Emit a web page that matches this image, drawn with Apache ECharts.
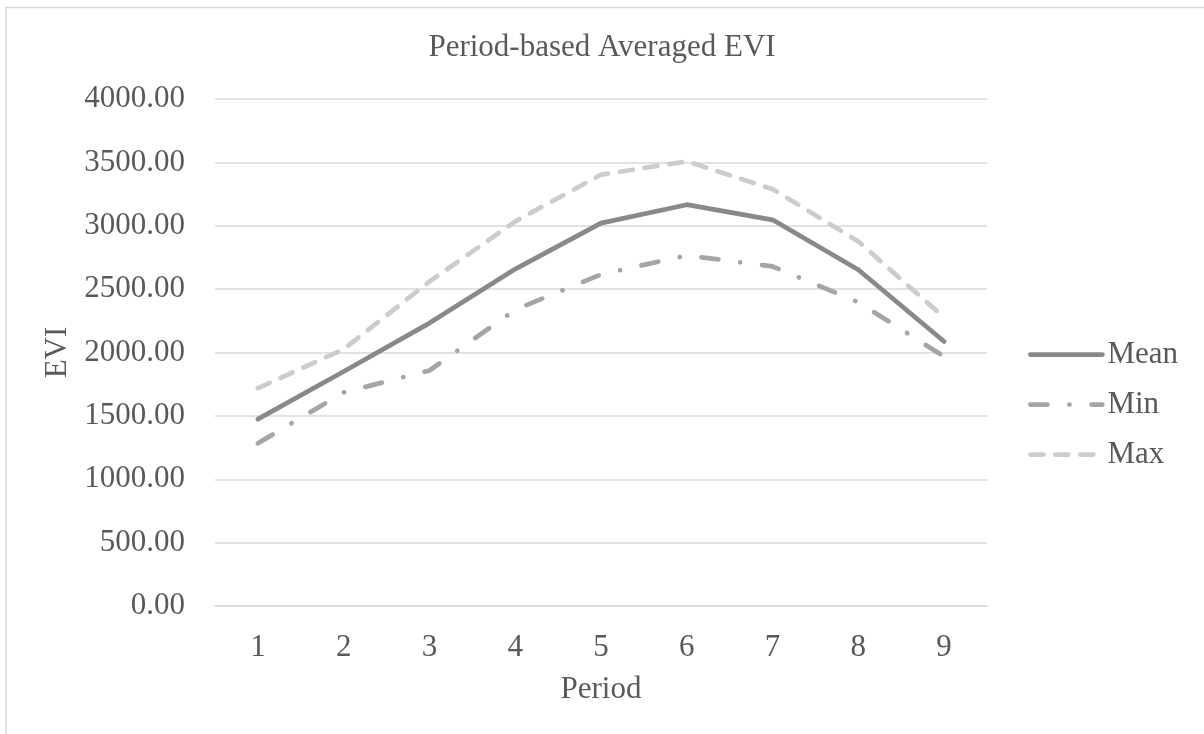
<!DOCTYPE html>
<html>
<head>
<meta charset="utf-8">
<script src="https://cdn.jsdelivr.net/npm/echarts@6/dist/echarts.min.js"></script>
<style>
  html, body { margin: 0; padding: 0; background: #ffffff; }
  #chart { width: 1204px; height: 734px; }
</style>
</head>
<body>
<div id="chart"></div>
<script>
// Averaged EVI per period
const periods = ['1', '2', '3', '4', '5', '6', '7', '8', '9'];
const meanValues = [1474, 1850, 2232, 2658, 3021, 3166, 3047, 2653, 2087];
const minValues = [1284, 1685, 1858, 2337, 2616, 2766, 2679, 2397, 1968];
const maxValues = [1718, 2026, 2560, 3034, 3403, 3508, 3289, 2876, 2276];
const yTicks = { min: 0, max: 4000, interval: 500 };

const FONT = '"Liberation Serif", "Times New Roman", serif';
const TEXT = '#595959';
const GRID = '#d9d9d9';
const LINE_W = 4.75;

const chart = echarts.init(document.getElementById('chart'), null, { renderer: 'canvas' });

chart.setOption({
  backgroundColor: '#ffffff',
  animation: false,
  title: {
    text: 'Period-based Averaged EVI',
    left: 'center',
    top: 27,
    textStyle: { fontFamily: FONT, fontSize: 31, fontWeight: 'normal', color: TEXT }
  },
  legend: {
    orient: 'vertical',
    left: 1023,
    top: 334,
    itemWidth: 72,
    itemHeight: 14,
    itemGap: 19,
    // show only the line in each key, no marker
    itemStyle: { opacity: 0 },
    lineStyle: { width: LINE_W, cap: 'round' },
    textStyle: { fontFamily: FONT, fontSize: 31, color: TEXT },
    data: ['Mean', 'Min', 'Max']
  },
  grid: { left: 215, right: 217, top: 99, bottom: 128 },
  xAxis: {
    type: 'category',
    data: periods,
    boundaryGap: true,
    name: 'Period',
    nameLocation: 'middle',
    nameGap: 68,
    nameTextStyle: { fontFamily: FONT, fontSize: 31, color: TEXT },
    axisLine: { show: true, lineStyle: { color: GRID, width: 1.5 } },
    axisTick: { show: false },
    axisLabel: { fontFamily: FONT, fontSize: 31, color: TEXT, margin: 26 }
  },
  yAxis: {
    type: 'value',
    min: yTicks.min,
    max: yTicks.max,
    interval: yTicks.interval,
    name: 'EVI',
    nameLocation: 'middle',
    nameRotate: 90,
    nameGap: 139,
    nameTextStyle: { fontFamily: FONT, fontSize: 31, color: TEXT },
    axisLine: { show: false },
    axisTick: { show: false },
    splitLine: { lineStyle: { color: GRID, width: 1.5 } },
    axisLabel: {
      fontFamily: FONT, fontSize: 31, color: TEXT, margin: 30,
      formatter: v => v.toFixed(2)
    }
  },
  series: [
    {
      name: 'Mean', type: 'line', data: meanValues,
      symbol: 'none', smooth: false,
      lineStyle: { color: '#898989', width: LINE_W, cap: 'round', join: 'round' },
      itemStyle: { color: '#898989' }
    },
    {
      name: 'Min', type: 'line', data: minValues,
      symbol: 'none', smooth: false,
      lineStyle: { color: '#a5a5a5', width: LINE_W, cap: 'round', join: 'round', type: [17, 22, 0.1, 22] },
      itemStyle: { color: '#a5a5a5' }
    },
    {
      name: 'Max', type: 'line', data: maxValues,
      symbol: 'none', smooth: false,
      lineStyle: { color: '#cccccc', width: LINE_W, cap: 'round', join: 'round', type: [13, 12] },
      itemStyle: { color: '#cccccc' }
    }
  ],
  graphic: [
    {
      type: 'polyline',
      silent: true,
      shape: { points: [[6, 734], [6, 7.5], [1204, 7.5]] },
      style: { stroke: GRID, lineWidth: 1.5, fill: null }
    }
  ]
});
</script>
</body>
</html>
